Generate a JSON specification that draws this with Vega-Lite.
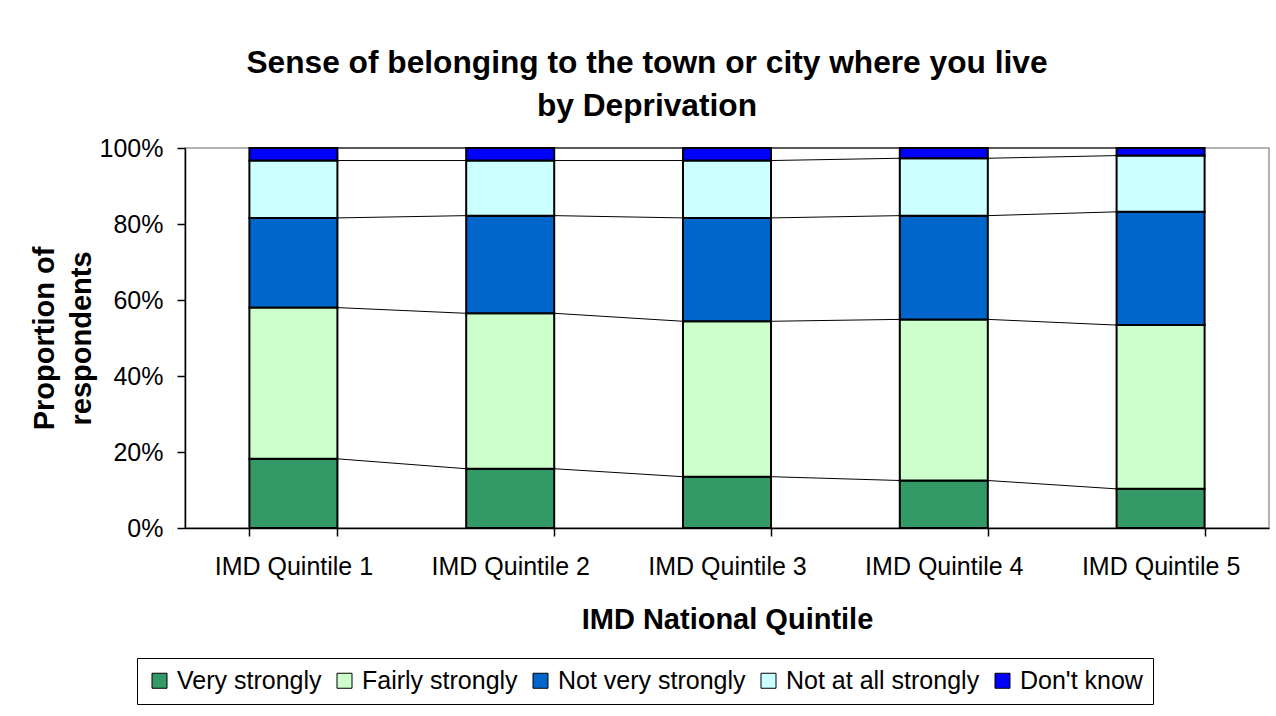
{
  "$schema": "https://vega.github.io/schema/vega-lite/v6.json",
  "autosize": {"type": "none"},
  "width": 1084,
  "height": 380,
  "padding": {"left": 185, "top": 148, "right": 7, "bottom": 188},
  "background": "white",
  "title": {
    "text": ["Sense of belonging to the town or city where you live", "by Deprivation"],
    "fontSize": 31.7,
    "fontWeight": "bold",
    "font": "Liberation Sans",
    "color": "black",
    "lineHeight": 43,
    "anchor": "middle",
    "frame": "group",
    "baseline": "alphabetic",
    "dx": -80,
    "dy": 44,
    "offset": 32
  },
  "data": {
    "values": [
      {"quintile": "IMD Quintile 1", "response": "Very strongly", "rank": 1, "pct": 18.2},
      {"quintile": "IMD Quintile 1", "response": "Fairly strongly", "rank": 2, "pct": 39.8},
      {"quintile": "IMD Quintile 1", "response": "Not very strongly", "rank": 3, "pct": 23.6},
      {"quintile": "IMD Quintile 1", "response": "Not at all strongly", "rank": 4, "pct": 15.1},
      {"quintile": "IMD Quintile 1", "response": "Don't know", "rank": 5, "pct": 3.3},
      {"quintile": "IMD Quintile 2", "response": "Very strongly", "rank": 1, "pct": 15.6},
      {"quintile": "IMD Quintile 2", "response": "Fairly strongly", "rank": 2, "pct": 40.9},
      {"quintile": "IMD Quintile 2", "response": "Not very strongly", "rank": 3, "pct": 25.7},
      {"quintile": "IMD Quintile 2", "response": "Not at all strongly", "rank": 4, "pct": 14.5},
      {"quintile": "IMD Quintile 2", "response": "Don't know", "rank": 5, "pct": 3.3},
      {"quintile": "IMD Quintile 3", "response": "Very strongly", "rank": 1, "pct": 13.5},
      {"quintile": "IMD Quintile 3", "response": "Fairly strongly", "rank": 2, "pct": 40.9},
      {"quintile": "IMD Quintile 3", "response": "Not very strongly", "rank": 3, "pct": 27.2},
      {"quintile": "IMD Quintile 3", "response": "Not at all strongly", "rank": 4, "pct": 15.1},
      {"quintile": "IMD Quintile 3", "response": "Don't know", "rank": 5, "pct": 3.3},
      {"quintile": "IMD Quintile 4", "response": "Very strongly", "rank": 1, "pct": 12.5},
      {"quintile": "IMD Quintile 4", "response": "Fairly strongly", "rank": 2, "pct": 42.4},
      {"quintile": "IMD Quintile 4", "response": "Not very strongly", "rank": 3, "pct": 27.3},
      {"quintile": "IMD Quintile 4", "response": "Not at all strongly", "rank": 4, "pct": 15.1},
      {"quintile": "IMD Quintile 4", "response": "Don't know", "rank": 5, "pct": 2.7},
      {"quintile": "IMD Quintile 5", "response": "Very strongly", "rank": 1, "pct": 10.3},
      {"quintile": "IMD Quintile 5", "response": "Fairly strongly", "rank": 2, "pct": 43.1},
      {"quintile": "IMD Quintile 5", "response": "Not very strongly", "rank": 3, "pct": 29.8},
      {"quintile": "IMD Quintile 5", "response": "Not at all strongly", "rank": 4, "pct": 14.8},
      {"quintile": "IMD Quintile 5", "response": "Don't know", "rank": 5, "pct": 2.0}
    ]
  },
  "transform": [
    {"stack": "pct", "groupby": ["quintile"], "sort": [{"field": "rank", "order": "ascending"}], "as": ["lo", "hi"]}
  ],
  "encoding": {
    "x": {
      "field": "quintile",
      "type": "nominal",
      "scale": {"paddingInner": 0.594, "paddingOuter": 0.297},
      "axis": {
        "title": "IMD National Quintile",
        "labelAngle": 0,
        "tickBand": "extent",
        "tickSize": 8,
        "labelPadding": 18,
        "titlePadding": 26
      }
    }
  },
  "layer": [
    {
      "mark": {"type": "bar", "stroke": "black", "strokeWidth": 2, "opacity": 1},
      "encoding": {
        "y": {
          "field": "hi",
          "type": "quantitative",
          "scale": {"domain": [0, 100], "nice": false},
          "axis": {
            "title": ["Proportion of", "respondents"],
            "values": [0, 20, 40, 60, 80, 100],
            "labelExpr": "datum.value + '%'",
            "tickSize": 8,
            "labelPadding": 14,
            "titlePadding": 3,
            "titleLineHeight": 37,
            "grid": false
          }
        },
        "y2": {"field": "lo"},
        "color": {
          "field": "response",
          "type": "nominal",
          "scale": {
            "domain": ["Very strongly", "Fairly strongly", "Not very strongly", "Not at all strongly", "Don't know"],
            "range": ["#339966", "#CCFFCC", "#0066CC", "#CCFFFF", "#0000FF"]
          },
          "legend": {
            "title": null,
            "orient": "none",
            "direction": "horizontal",
            "legendX": -48,
            "legendY": 510,
            "padding": 10,
            "strokeColor": "black",
            "fillColor": "white",
            "symbolType": "square",
            "symbolSize": 225,
            "symbolStrokeColor": "black",
            "symbolStrokeWidth": 1,
            "symbolOpacity": 1,
            "labelFontSize": 25,
            "labelFont": "Liberation Sans",
            "labelColor": "black",
            "labelOffset": 5,
            "columnPadding": 10,
            "labelLimit": 400
          }
        }
      }
    },
    {
      "transform": [
        {
          "window": [
            {"op": "lead", "field": "hi", "as": "nextHi"},
            {"op": "lead", "field": "quintile", "as": "nextQ"}
          ],
          "groupby": ["response"],
          "sort": [{"field": "quintile", "order": "ascending"}]
        },
        {"filter": "datum.nextQ != null"}
      ],
      "mark": {"type": "rule", "color": "black", "strokeWidth": 1},
      "encoding": {
        "x": {"field": "quintile", "type": "nominal", "bandPosition": 1},
        "x2": {"field": "nextQ", "bandPosition": 0},
        "y": {"field": "hi", "type": "quantitative"},
        "y2": {"field": "nextHi"}
      }
    }
  ],
  "config": {
    "font": "Liberation Sans",
    "view": {"stroke": "#999999", "strokeWidth": 1.5},
    "axis": {
      "domainColor": "black",
      "domainWidth": 1.5,
      "tickColor": "black",
      "tickWidth": 1.5,
      "labelFont": "Liberation Sans",
      "labelFontSize": 25,
      "labelColor": "black",
      "titleFont": "Liberation Sans",
      "titleFontSize": 29,
      "titleFontWeight": "bold",
      "titleColor": "black",
      "grid": false
    }
  }
}
